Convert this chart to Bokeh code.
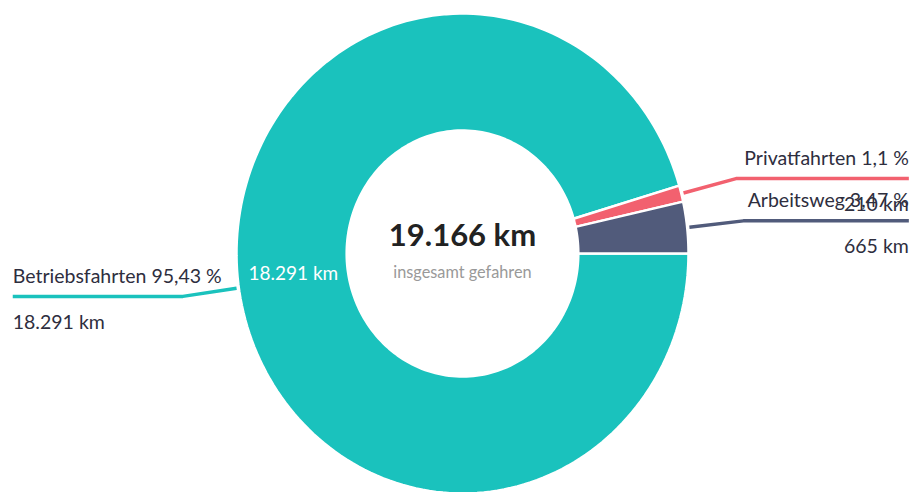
import numpy as np
from bokeh.plotting import figure
from bokeh.models import Range1d
from bokeh.core.properties import value
from bokeh.embed import file_html
from bokeh.resources import INLINE

# ---- data ----
categories = ["Betriebsfahrten", "Privatfahrten", "Arbeitsweg"]
km_values = [18291, 210, 665]
pct_labels = ["95,43 %", "1,1 %", "3,47 %"]
km_labels = ["18.291 km", "210 km", "665 km"]
colors = ["#1AC2BD", "#F2616F", "#515B7B"]
total_label = "19.166 km"
total_caption = "insgesamt gefahren"

FONT = "Lato"
INNER = 0.5125

vals = np.array(km_values, dtype=float)
frac = vals / vals.sum()
ends = -np.cumsum(frac) * 2 * np.pi
starts = np.concatenate([[0.0], ends[:-1]])
mids = (starts + ends) / 2

p = figure(width=917, height=492, output_backend="svg", toolbar_location=None,
           x_range=Range1d(-2.0442, 2.0133), y_range=Range1d(-0.9958, 1.0542),
           min_border=0)
p.axis.visible = False
p.grid.visible = False
p.outline_line_color = None
p.background_fill_color = "white"

xs, ys = [], []
for a0, a1 in zip(starts, ends):
    t = np.linspace(a0, a1, 200)
    ox, oy = np.cos(t), np.sin(t)
    ix, iy = INNER * np.cos(t[::-1]), INNER * np.sin(t[::-1])
    xs.append(np.concatenate([ox, ix]).tolist())
    ys.append(np.concatenate([oy, iy]).tolist())
p.patches(xs=xs, ys=ys, fill_color=colors, line_color="white", line_width=2.5)

# leader lines and labels
X_LEFT, X_RIGHT = -1.99, 1.975
for i, m in enumerate(mids):
    c, s = np.cos(m), np.sin(m)
    ex = X_LEFT if c < 0 else X_RIGHT
    lx = [1.01 * c, 1.25 * c, ex]
    ly = [1.01 * s, 1.25 * s, 1.25 * s]
    p.line(lx, ly, line_color=colors[i], line_width=3.5)
    align = "left" if c < 0 else "right"
    p.text(x=[ex], y=[1.25 * s], text=[f"{categories[i]} {pct_labels[i]}"],
           text_align=align, text_baseline="middle", y_offset=-21,
           text_font=value(FONT), text_font_size="19.5px", text_color="#2E2E3E")
    p.text(x=[ex], y=[1.25 * s], text=[km_labels[i]],
           text_align=align, text_baseline="middle", y_offset=25,
           text_font=value(FONT), text_font_size="19.5px", text_color="#2E2E3E")

# inside label for largest slice
big = int(np.argmax(vals))
rm = (1 + INNER) / 2
p.text(x=[rm * np.cos(mids[big])], y=[rm * np.sin(mids[big])], text=[km_labels[big]],
       text_align="center", text_baseline="middle", y_offset=-7,
       text_font=value(FONT), text_font_size="19px", text_color="white")

# center texts
p.text(x=[0], y=[0], text=[total_label], text_align="center", text_baseline="middle",
       y_offset=-20, text_font=value(FONT), text_font_size="31px",
       text_font_style="bold", text_color="#222222")
p.text(x=[0], y=[0], text=[total_caption], text_align="center", text_baseline="middle",
       y_offset=18, text_font=value(FONT), text_font_size="16.3px", text_color="#999999")

open("out.html", "w").write(file_html(p, INLINE))
